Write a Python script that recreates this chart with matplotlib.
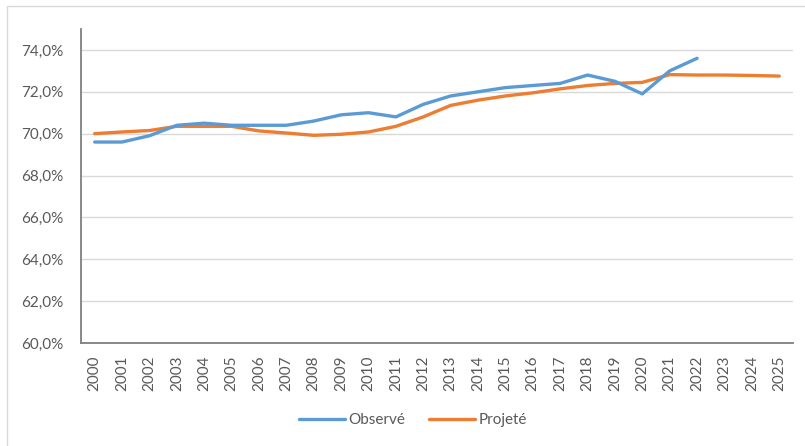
import matplotlib.pyplot as plt
import matplotlib.patches as mpatches
from matplotlib.ticker import FuncFormatter

# Données
annees = list(range(2000, 2026))
observe = [69.6, 69.6, 69.9, 70.4, 70.5, 70.4, 70.4, 70.4, 70.6, 70.9, 71.0, 70.8,
           71.4, 71.8, 72.0, 72.2, 72.3, 72.4, 72.8, 72.5, 71.9, 73.0, 73.6]
projete = [70.0, 70.08, 70.15, 70.35, 70.35, 70.35, 70.13, 70.03, 69.92, 69.97, 70.08,
           70.35, 70.8, 71.35, 71.6, 71.8, 71.95, 72.14, 72.3, 72.4, 72.45, 72.82,
           72.8, 72.8, 72.78, 72.75]
y_ticks = [60, 62, 64, 66, 68, 70, 72, 74]

bleu = "#5B9BD5"
orange = "#ED7D31"
gris_texte = "#595959"

plt.rcParams["font.family"] = ["Lato", "DejaVu Sans"]

fig = plt.figure(figsize=(8.05, 4.46), dpi=100)
ax = fig.add_axes([0.1006, 0.231, 0.8844, 0.704])

x_obs = list(range(len(observe)))
x_proj = list(range(len(projete)))
ax.plot(x_obs, observe, color=bleu, lw=2.4, label="Observé", solid_capstyle="round", zorder=3)
ax.plot(x_proj, projete, color=orange, lw=2.4, label="Projeté", solid_capstyle="round", zorder=2)

ax.set_xlim(-0.5, len(annees) - 0.5)
ax.set_ylim(60, 75)
ax.set_yticks(y_ticks)
ax.yaxis.set_major_formatter(FuncFormatter(lambda v, p: f"{v:.1f}%".replace(".", ",")))
ax.set_xticks(range(len(annees)))
ax.set_xticklabels([str(a) for a in annees], rotation=90)

ax.grid(axis="y", color="#D9D9D9", lw=1)
ax.set_axisbelow(True)
for s in ["top", "right"]:
    ax.spines[s].set_visible(False)
for s in ["left", "bottom"]:
    ax.spines[s].set_color("#7F7F7F")
    ax.spines[s].set_linewidth(1.3)
ax.tick_params(axis="y", length=0, pad=13, labelsize=11, labelcolor=gris_texte)
ax.tick_params(axis="x", length=0, pad=9, labelsize=11, labelcolor=gris_texte)

leg = fig.legend(loc="center", bbox_to_anchor=(0.513, 1 - 420 / 446), ncol=2, frameon=False,
                 fontsize=11, handlelength=3.0, handletextpad=0.2, columnspacing=1.6)
for t in leg.get_texts():
    t.set_color(gris_texte)

# cadre du graphique
fig.patches.append(mpatches.Rectangle((7 / 805, -0.05), 1.05, 0.9865 + 0.05,
                                      transform=fig.transFigure, fill=False,
                                      edgecolor="#D9D9D9", lw=1))

fig.savefig("out.png", dpi=100)
